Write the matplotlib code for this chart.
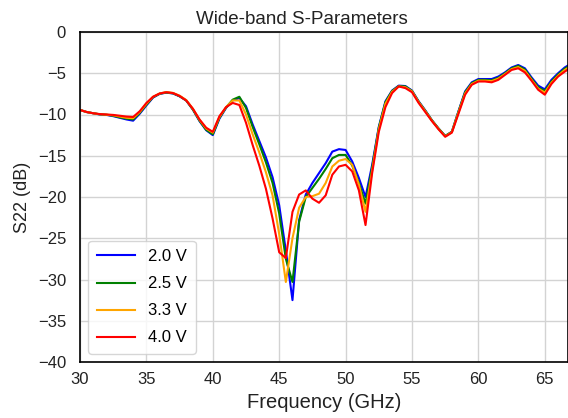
import numpy as np
import matplotlib
matplotlib.use("Agg")
import matplotlib.pyplot as plt

plt.rcParams['font.family'] = ['Liberation Sans', 'DejaVu Sans']

freq = [30 + 0.5 * i for i in range(75)]  # 30 .. 67 GHz

s22_2v0 = [-9.45, -9.7, -9.85, -10.0, -10.05, -10.2, -10.4, -10.6, -10.75, -9.9,
           -8.9, -7.95, -7.5, -7.35, -7.45, -7.8, -8.3, -9.4, -10.8, -11.9,
           -12.5, -10.5, -9.2, -8.3, -8.0, -9.0, -11.2, -13.2, -15.2, -17.6,
           -21.0, -26.5, -32.5, -22.8, -19.7, -18.3, -17.1, -15.9, -14.5, -14.2,
           -14.3, -15.7, -17.7, -20.0, -16.1, -11.5, -8.4, -7.1, -6.5, -6.55,
           -7.1, -8.4, -9.5, -10.7, -11.7, -12.6, -12.1, -9.6, -7.2, -6.1,
           -5.7, -5.7, -5.7, -5.4, -4.9, -4.3, -4.0, -4.4, -5.5, -6.5,
           -6.95, -5.8, -5.0, -4.3, -3.8]

s22_2v5 = [-9.45, -9.7, -9.85, -9.98, -10.03, -10.15, -10.35, -10.5, -10.6, -9.8,
           -8.8, -7.9, -7.48, -7.33, -7.43, -7.78, -8.3, -9.4, -10.75, -11.85,
           -12.4, -10.4, -9.15, -8.2, -7.85, -9.2, -11.5, -13.6, -15.8, -18.3,
           -22.0, -27.5, -30.3, -23.0, -20.0, -18.9, -17.8, -16.6, -15.3, -14.9,
           -14.9, -16.2, -18.3, -20.8, -16.4, -11.6, -8.5, -7.15, -6.55, -6.6,
           -7.15, -8.45, -9.55, -10.7, -11.7, -12.6, -12.1, -9.65, -7.3, -6.2,
           -5.8, -5.8, -5.85, -5.55, -5.0, -4.4, -4.1, -4.55, -5.65, -6.7,
           -7.15, -6.0, -5.15, -4.45, -3.95]

s22_3v3 = [-9.45, -9.7, -9.85, -9.97, -10.02, -10.1, -10.25, -10.4, -10.45, -9.7,
           -8.7, -7.85, -7.45, -7.28, -7.38, -7.72, -8.25, -9.3, -10.65, -11.7,
           -12.2, -10.3, -9.1, -8.3, -8.3, -10.0, -12.4, -14.6, -17.0, -19.8,
           -24.5, -30.3, -25.0, -21.3, -20.0, -19.9, -19.6, -18.3, -16.3, -15.6,
           -15.4, -16.1, -18.5, -21.8, -16.8, -11.8, -8.7, -7.25, -6.6, -6.7,
           -7.2, -8.5, -9.6, -10.75, -11.75, -12.65, -12.15, -9.75, -7.45, -6.3,
           -5.9, -5.9, -5.95, -5.65, -5.1, -4.5, -4.25, -4.7, -5.8, -6.85,
           -7.35, -6.15, -5.3, -4.6, -4.1]

s22_4v0 = [-9.45, -9.7, -9.85, -9.95, -10.0, -10.05, -10.15, -10.25, -10.3, -9.6,
           -8.6, -7.85, -7.45, -7.3, -7.4, -7.75, -8.3, -9.3, -10.6, -11.6,
           -12.1, -10.2, -9.1, -8.6, -8.85, -11.0, -13.7, -16.2, -19.0, -22.6,
           -26.7, -27.4, -21.8, -19.7, -19.2, -20.2, -20.7, -19.8, -17.3, -16.3,
           -16.1, -16.9, -19.2, -23.4, -17.1, -12.1, -9.1, -7.4, -6.6, -6.8,
           -7.3, -8.6, -9.7, -10.8, -11.8, -12.7, -12.2, -9.9, -7.6, -6.4,
           -6.0, -6.0, -6.1, -5.8, -5.2, -4.6, -4.4, -4.9, -5.9, -7.0,
           -7.6, -6.3, -5.4, -4.8, -4.3]

series = [("2.0 V", s22_2v0, "blue"),
          ("2.5 V", s22_2v5, "green"),
          ("3.3 V", s22_3v3, "orange"),
          ("4.0 V", s22_4v0, "red")]

fig = plt.figure(figsize=(5.68, 4.18), dpi=100)
ax = fig.add_axes([80 / 568, 1 - 362 / 418, 1 - 80 / 568, (362 - 32) / 418])

for label, vals, col in series:
    ax.plot(freq, vals, color=col, lw=1.5, label=label)

ax.set_xlim(30, 30 + 488 / 13.28)
ax.set_ylim(-40, 0)
ax.set_xticks([30, 35, 40, 45, 50, 55, 60, 65])
ax.set_yticks(range(-40, 1, 5))
ax.grid(True, color="#d3d3d3", lw=1)
ax.set_axisbelow(True)
ax.tick_params(length=0, labelsize=12, colors="#222222")
ax.tick_params(axis="x", pad=7.5)
ax.tick_params(axis="y", pad=10)
for sp in ax.spines.values():
    sp.set_color("black")
    sp.set_linewidth(1.2)

ax.set_xlabel("Frequency (GHz)", fontsize=14.5, color="#222222", labelpad=4)
ax.set_ylabel("S22 (dB)", fontsize=13, color="#222222", labelpad=5)
ax.set_title("Wide-band S-Parameters", fontsize=13.5, color="#222222", pad=6,
             x=(302 - 80) / 488)

leg = ax.legend(loc="lower left", fontsize=12, frameon=True, fancybox=True,
                handlelength=2.3, borderpad=0.5, labelspacing=0.72)
leg.get_frame().set_edgecolor("#cccccc")

fig.savefig("out.png", dpi=100)
